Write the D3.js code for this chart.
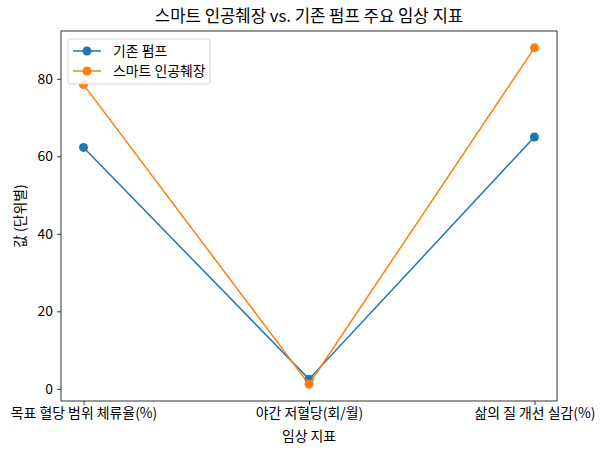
<!DOCTYPE html>
<html>
<head>
<meta charset="utf-8">
<script src="https://cdn.jsdelivr.net/npm/d3@7"></script>
<style>
  body { margin: 0; background: #fff; }
  svg { font-family: "Noto Sans CJK KR", "DejaVu Sans", sans-serif; }
</style>
</head>
<body>
<svg id="chart"></svg>
<script>
// data
const categories = ['목표 혈당 범위 체류율(%)', '야간 저혈당(회/월)', '삶의 질 개선 실감(%)'];
const seriesNames = ['기존 펌프', '스마트 인공췌장'];
const conventional = [62.3, 2.5, 65.0];
const smart = [78.5, 1.2, 88.0];
const yTicks = [0, 20, 40, 60, 80];
const colors = ['#1f77b4', '#ff7f0e'];

// drawing constants
const W = 604, H = 455;
const LEFT = 61, RIGHT = 557, TOP = 31, BOTTOM = 401;
const FONT = 13.9;

const svg = d3.select('#chart')
  .attr('width', W)
  .attr('height', H);

const series = [conventional, smart];
const all = series.flat();
const lo = d3.min(all), hi = d3.max(all);
const pad = (hi - lo) * 0.05;

const x = d3.scaleLinear().domain([-0.1, categories.length - 0.9]).range([LEFT, RIGHT]);
const y = d3.scaleLinear().domain([lo - pad, hi + pad]).range([BOTTOM, TOP]);

// axes
const xAxis = svg.append('g')
  .attr('transform', `translate(0,${BOTTOM})`)
  .call(d3.axisBottom(x).tickValues(d3.range(categories.length)).tickFormat(i => categories[i]).tickSize(4).tickPadding(3));
const yAxis = svg.append('g')
  .attr('transform', `translate(${LEFT},0)`)
  .call(d3.axisLeft(y).tickValues(yTicks).tickSize(4).tickPadding(4));

[xAxis, yAxis].forEach(a => {
  a.select('.domain').remove();
  a.selectAll('text').attr('font-size', FONT).attr('fill', '#000')
    .attr('font-family', '"Noto Sans CJK KR", sans-serif');
  a.selectAll('line').attr('stroke', '#000').attr('stroke-width', 0.8);
});

// frame
svg.append('rect')
  .attr('x', LEFT).attr('y', TOP)
  .attr('width', RIGHT - LEFT).attr('height', BOTTOM - TOP)
  .attr('fill', 'none').attr('stroke', '#000').attr('stroke-width', 0.8);

// lines and markers
const line = d3.line().x((d, i) => x(i)).y(d => y(d));
series.forEach((s, k) => {
  svg.append('path')
    .attr('d', line(s))
    .attr('fill', 'none')
    .attr('stroke', colors[k])
    .attr('stroke-width', 1.5);
  svg.selectAll(null).data(s).enter().append('circle')
    .attr('cx', (d, i) => x(i))
    .attr('cy', d => y(d))
    .attr('r', 4.5)
    .attr('fill', colors[k]);
});

// title and axis labels
svg.append('text')
  .attr('x', (LEFT + RIGHT) / 2).attr('y', 22)
  .attr('text-anchor', 'middle')
  .attr('font-size', 16.7)
  .text('스마트 인공췌장 vs. 기존 펌프 주요 임상 지표');
svg.append('text')
  .attr('x', (LEFT + RIGHT) / 2).attr('y', 441)
  .attr('text-anchor', 'middle')
  .attr('font-size', FONT)
  .text('임상 지표');
svg.append('text')
  .attr('transform', `translate(25,${(TOP + BOTTOM) / 2}) rotate(-90)`)
  .attr('text-anchor', 'middle')
  .attr('font-size', FONT)
  .text('값 (단위별)');

// legend
const legend = svg.append('g').attr('transform', 'translate(68,39)');
legend.append('rect')
  .attr('width', 142).attr('height', 45).attr('rx', 3)
  .attr('fill', '#fff').attr('fill-opacity', 0.8)
  .attr('stroke', '#ccc').attr('stroke-width', 0.8);
seriesNames.forEach((name, k) => {
  const yy = 12 + k * 20;
  legend.append('line')
    .attr('x1', 5).attr('x2', 33).attr('y1', yy).attr('y2', yy)
    .attr('stroke', colors[k]).attr('stroke-width', 1.5);
  legend.append('circle')
    .attr('cx', 19).attr('cy', yy).attr('r', 4.5).attr('fill', colors[k]);
  legend.append('text')
    .attr('x', 45).attr('y', yy).attr('dy', '0.35em')
    .attr('font-size', FONT)
    .text(name);
});
</script>
</body>
</html>
